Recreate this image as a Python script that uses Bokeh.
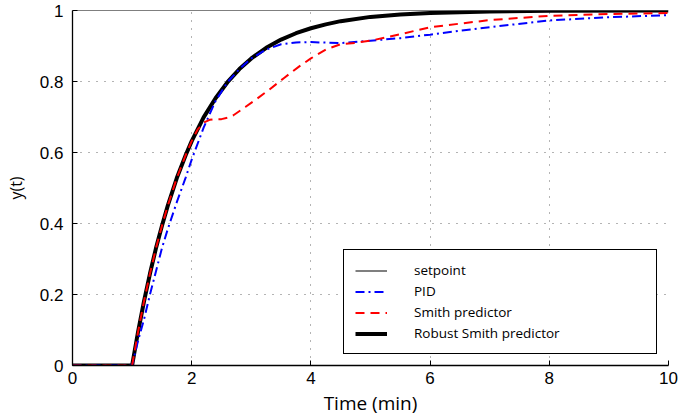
from bokeh.plotting import figure
from bokeh.models import Range1d, FixedTicker, Legend, LegendItem
from bokeh.embed import file_html
from bokeh.resources import INLINE

# ---- data ----
x_ticks = [0, 2, 4, 6, 8, 10]
x_tick_labels = ["0", "2", "4", "6", "8", "10"]
y_ticks = [0, 0.2, 0.4, 0.6, 0.8, 1.0]
y_tick_labels = ["0", "0.2", "0.4", "0.6", "0.8", "1"]

t_setpoint = [0, 10]
y_setpoint = [1, 1]

t_pid = [0, 1.0, 1.1, 1.2, 1.3, 1.4, 1.5, 1.6, 1.75, 1.9, 2.0, 2.2, 2.4, 2.6, 2.8, 3.0,
         3.25, 3.5, 3.75, 4.0, 4.5, 5.0, 5.5, 6.0, 6.5, 7.0, 8.0, 9.0, 10.0]
y_pid = [0, 0, 0.07, 0.13, 0.20, 0.265, 0.33, 0.385, 0.46, 0.53, 0.58, 0.67, 0.745, 0.798, 0.835, 0.865,
         0.89, 0.905, 0.91, 0.911, 0.908, 0.915, 0.922, 0.932, 0.943, 0.953, 0.972, 0.981, 0.987]

t_smith = [0, 1.0, 1.1, 1.2, 1.3, 1.4, 1.5, 1.6, 1.75, 1.9, 2.0, 2.1, 2.2, 2.3, 2.4, 2.5, 2.6, 2.7,
           2.9, 3.1, 3.3, 3.55, 3.8, 4.0, 4.25, 4.5, 4.75, 5.0, 5.5, 6.0, 7.0, 8.0, 9.0, 10.0]
y_smith = [0, 0, 0.095, 0.181, 0.259, 0.33, 0.393, 0.451, 0.528, 0.593, 0.632, 0.665, 0.684, 0.692, 0.694,
           0.694, 0.698, 0.705, 0.728, 0.752, 0.777, 0.81, 0.842, 0.865, 0.89, 0.905, 0.909, 0.915,
           0.933, 0.953, 0.973, 0.985, 0.99, 0.993]

t_robust = [0, 1.0, 1.1, 1.2, 1.3, 1.4, 1.5, 1.6, 1.75, 1.9, 2.0, 2.2, 2.4, 2.6, 2.8, 3.0, 3.25,
            3.5, 3.75, 4.0, 4.25, 4.5, 5.0, 5.5, 6.0, 7.0, 8.0, 10.0]
y_robust = [0, 0, 0.095, 0.181, 0.259, 0.33, 0.393, 0.451, 0.528, 0.593, 0.632, 0.699, 0.753, 0.798,
            0.835, 0.865, 0.895, 0.918, 0.936, 0.95, 0.961, 0.97, 0.982, 0.989, 0.993, 0.997, 0.999, 1.0]

series_names = ["setpoint", "PID", "Smith predictor", "Robust Smith predictor"]

FONT = "Liberation Sans"
LFONT = "Open Sans"

p = figure(width=691, height=418, output_backend="svg", toolbar_location=None,
           x_range=Range1d(0, 10), y_range=Range1d(0, 1),
           min_border_left=72, min_border_right=23, min_border_top=10, min_border_bottom=53)
p.outline_line_color = None
p.background_fill_color = "white"
p.border_fill_color = "white"

# grid
for g in (p.xgrid, p.ygrid):
    g.grid_line_color = "#444444"
    g.grid_line_dash = "1 7"
    g.grid_line_width = 1
    g.grid_line_alpha = 0.8
p.xgrid.ticker = FixedTicker(ticks=x_ticks)
p.ygrid.ticker = FixedTicker(ticks=y_ticks)

# axes
p.xaxis.ticker = FixedTicker(ticks=x_ticks)
p.yaxis.ticker = FixedTicker(ticks=y_ticks)
p.xaxis.major_label_overrides = {v: s for v, s in zip(x_ticks, x_tick_labels)}
p.yaxis.major_label_overrides = {v: s for v, s in zip(y_ticks, y_tick_labels)}
for ax in (p.xaxis, p.yaxis):
    ax.axis_line_color = "black"
    ax.axis_line_width = 1.3
    ax.major_tick_in = 5
    ax.major_tick_out = 0
    ax.major_tick_line_color = "black"
    ax.minor_tick_line_color = None
    ax.major_label_text_font = FONT
    ax.major_label_text_font_size = "17px"
    ax.major_label_text_color = "black"
    ax.axis_label_text_color = "black"
    ax.axis_label_text_font = LFONT
    ax.axis_label_text_font_style = "normal"
p.xaxis.major_label_standoff = 6
p.yaxis.major_label_standoff = 9
p.yaxis.axis_label = "y(t)"
p.yaxis.axis_label_text_font_size = "16px"
p.yaxis.axis_label_standoff = 10
p.xaxis.axis_label = "Time (min)"
p.xaxis.axis_label_text_font_size = "19px"
p.xaxis.axis_label_standoff = 3

# lines
r_set = p.line(t_setpoint, y_setpoint, line_color="black", line_width=1.2)
r_rob = p.line(t_robust, y_robust, line_color="black", line_width=4)
r_pid = p.line(t_pid, y_pid, line_color="#0000ff", line_width=2, line_dash="9 4 2 4")
r_smi = p.line(t_smith, y_smith, line_color="#ff0000", line_width=2, line_dash="9 6")

legend = Legend(items=[LegendItem(label=series_names[0], renderers=[r_set]),
                       LegendItem(label=series_names[1], renderers=[r_pid]),
                       LegendItem(label=series_names[2], renderers=[r_smi]),
                       LegendItem(label=series_names[3], renderers=[r_rob])],
                location="bottom_right")
legend.margin = 11
legend.padding = 11
legend.spacing = 3
legend.glyph_width = 32
legend.glyph_height = 15
legend.label_height = 15
legend.label_width = 231
legend.label_standoff = 27
legend.label_text_font = LFONT
legend.label_text_font_size = "13.5px"
legend.label_text_color = "black"
legend.border_line_color = "black"
legend.border_line_alpha = 1
legend.border_line_width = 1.2
legend.background_fill_color = "white"
legend.background_fill_alpha = 1
p.add_layout(legend, "center")

open("out.html", "w").write(file_html(p, INLINE))
